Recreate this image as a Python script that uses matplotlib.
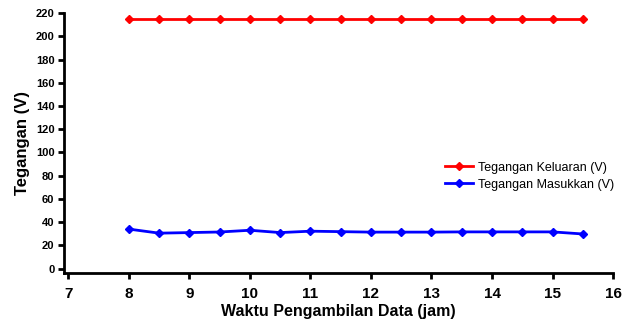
import matplotlib.pyplot as plt

plt.rcParams['font.family'] = ['Liberation Sans', 'DejaVu Sans']

# jam pengambilan data
jam = [8, 8.5, 9, 9.5, 10, 10.5, 11, 11.5, 12, 12.5, 13, 13.5, 14, 14.5, 15, 15.5]
keluaran = [215] * 16
masukkan = [34, 30.5, 31, 31.5, 33, 31, 32.2, 31.8, 31.4, 31.4, 31.4, 31.6, 31.6, 31.6, 31.6, 29.8]

fig = plt.figure(figsize=(6.23, 3.2), dpi=100)
ax = fig.add_axes([0.103, 0.148, 0.881, 0.811])

ax.plot(jam, keluaran, color='#ff0000', marker='D', markersize=4.5, linewidth=2,
        label='Tegangan Keluaran (V)')
ax.plot(jam, masukkan, color='#0000ff', marker='D', markersize=4.5, linewidth=2,
        label='Tegangan Masukkan (V)')

ax.set_xlim(6.93, 16)
ax.set_ylim(-3.5, 220)
ax.set_xticks(range(7, 17))
ax.set_yticks(range(0, 221, 20))

for s in ['top', 'right']:
    ax.spines[s].set_visible(False)
for s in ['left', 'bottom']:
    ax.spines[s].set_linewidth(2)
ax.tick_params(axis='both', width=2, length=4, direction='out')
ax.tick_params(axis='y', labelsize=8, pad=3)
ax.tick_params(axis='x', labelsize=11, pad=6)
for lbl in ax.get_xticklabels() + ax.get_yticklabels():
    lbl.set_fontweight('bold')

ax.set_xlabel('Waktu Pengambilan Data (jam)', fontsize=11.5, fontweight='bold', labelpad=2.5)
ax.set_ylabel('Tegangan (V)', fontsize=12, fontweight='bold', labelpad=4)

ax.legend(loc='center left', bbox_to_anchor=(0.674, 0.372), frameon=False, fontsize=9,
          handlelength=2.2, labelspacing=0.4, handletextpad=0.45)

fig.savefig('out.png', dpi=100)
